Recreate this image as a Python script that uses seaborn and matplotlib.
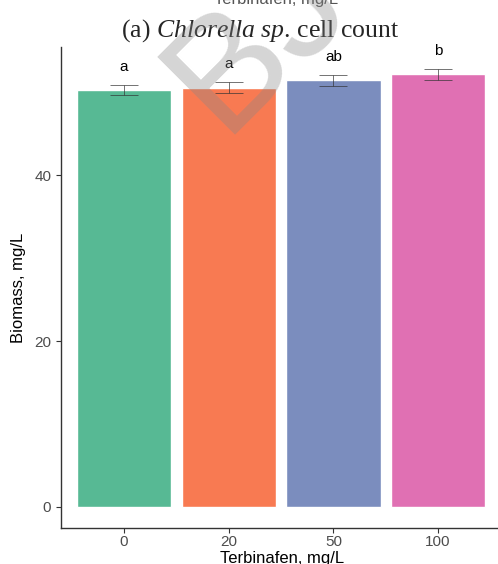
import matplotlib
matplotlib.use("Agg")
import matplotlib.pyplot as plt
import seaborn as sns
import pandas as pd

# biomass at each terbinafen dose
doses = ["0", "20", "50", "100"]
biomass = [50.3, 50.6, 51.5, 52.2]
errors = [0.65, 0.67, 0.65, 0.65]
letters = ["a", "a", "ab", "b"]
colors = ["#57B994", "#F87A52", "#7B8DBE", "#E070B3"]

df = pd.DataFrame({"dose": doses, "biomass": biomass})

sns.set_theme(style="white")
plt.rcParams["font.family"] = ["Liberation Sans", "DejaVu Sans"]
plt.rcParams["mathtext.fontset"] = "custom"
plt.rcParams["mathtext.rm"] = "Liberation Serif"
plt.rcParams["mathtext.it"] = "Liberation Serif:italic"

fig = plt.figure(figsize=(4.98, 5.64), dpi=100)
ax = fig.add_axes([0.1225, 0.0638, 0.8775, 0.8529])

sns.barplot(data=df, x="dose", y="biomass", hue="dose", palette=colors,
            width=0.9, legend=False, ax=ax, errorbar=None, saturation=1)
ax.errorbar(range(len(doses)), biomass, yerr=errors, fmt="none",
            ecolor="#333333", elinewidth=0.6, capsize=10, capthick=0.6, alpha=0.8)
for i, (v, e, t) in enumerate(zip(biomass, errors, letters)):
    ax.text(i, v + e + 1.3, t, ha="center", va="bottom", fontsize=11, color="black")

ax.set_xlim(-0.602, 3.572)
ax.set_ylim(-2.57, 55.5)
ax.set_yticks([0, 20, 40])
ax.set_xlabel("")
ax.set_ylabel("Biomass, mg/L", fontsize=12, color="black", labelpad=6)
ax.tick_params(axis="both", labelsize=11, labelcolor="#4D4D4D", colors="#333333",
               length=3.5, width=0.8, bottom=True, left=True)
ax.tick_params(axis="x", pad=1.5)
for s in ["top", "right"]:
    ax.spines[s].set_visible(False)
for s in ["left", "bottom"]:
    ax.spines[s].set_color("#333333")
    ax.spines[s].set_linewidth(1.0)

fig.text(282 / 498, 0.002, "Terbinafen, mg/L", ha="center", va="baseline",
         fontsize=12, color="black")
fig.text(276 / 498, 1 - 4 / 564, "Terbinafen, mg/L", ha="center", va="baseline",
         fontsize=12, color="#555555")
fig.text(260 / 498, 0.945, r"(a) $\it{Chlorella\ sp}$. cell count", ha="center",
         va="center", fontsize=18.5, family="Liberation Serif")

# watermark
fig.text(0.52, 0.93, "BJ", ha="center", va="center", fontsize=115, rotation=45,
         color="#888888", alpha=0.35, fontweight="normal")

fig.savefig("out.png", dpi=100)
